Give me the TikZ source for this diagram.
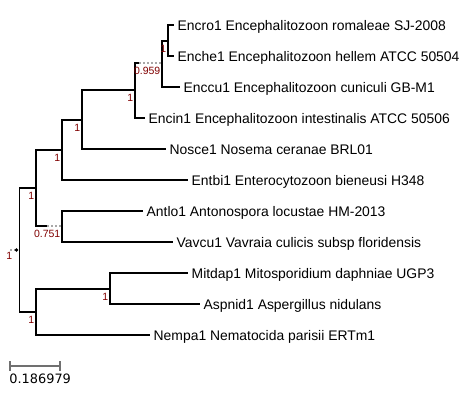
\documentclass[tikz,border=0pt]{standalone}
\usepackage{fontspec}
\setmainfont{Liberation Sans}
\newfontfamily\barfont{DejaVu Sans}
\usepackage{xcolor}
\usepackage{tikz}
\usetikzlibrary{calc}
\definecolor{supportred}{HTML}{800000}
\definecolor{dotgray}{HTML}{A8A8A8}
\definecolor{bargray}{HTML}{707070}
\tikzset{
    branch/.style={line width=1.9pt,black},
    dotbranch/.style={line width=1.9pt,dotgray,dash pattern=on 2pt off 2pt},
    leaflabel/.style={anchor=base west,inner sep=0pt,xshift=3.5pt,yshift=-5.3pt,font=\fontsize{13.9}{16}\selectfont},
    support/.style={anchor=north east,inner sep=0pt,xshift=-1.5pt,yshift=-3.8pt,text=supportred,font=\fontsize{10.5}{12}\selectfont},
    scalebar/.style={line width=1.8pt,bargray}
}

\begin{document}
\begin{tikzpicture}[x=1pt,y=-1pt]
    \useasboundingbox (0,0) rectangle (476,411);
    % inner nodes
    \coordinate (root) at (19.5,250);
    \coordinate (rootdot) at (16.5,250);
    \coordinate (rootstub) at (10,250);
    \coordinate (n1) at (36,188);
    \coordinate (n2) at (62,150);
    \coordinate (n3) at (82,120);
    \coordinate (n4) at (135,90);
    \coordinate (n5s) at (139,63);
    \coordinate (n5) at (162,63);
    \coordinate (n6) at (168,41);
    \coordinate (n7s) at (47,226);
    \coordinate (n7) at (62,226);
    \coordinate (n8) at (36,312);
    \coordinate (n9) at (110,289);
    % leaves
    \coordinate (encro) at (174,25);
    \coordinate (enche) at (174,56);
    \coordinate (enccu) at (180,87);
    \coordinate (encin) at (145,118);
    \coordinate (nosce) at (166,149);
    \coordinate (entbi) at (188,180);
    \coordinate (antlo) at (143,211);
    \coordinate (vavcu) at (173,242);
    \coordinate (mitdap) at (188,273);
    \coordinate (aspnid) at (200,304);
    \coordinate (nempa) at (150,335);

    % branches
    \draw[dotbranch] (rootstub) -- (rootdot);
    \fill (rootdot) circle (1.9pt);
    \draw[branch] (root) |- (n1);
    \draw[branch] (root) |- (n8);
    \draw[branch] (n1) |- (n2);
    \draw[branch] (n1) |- (n7s);
    \draw[dotbranch] (n7s) -- (n7);
    \draw[branch] (n2) |- (n3);
    \draw[branch] (n2) |- (entbi);
    \draw[branch] (n3) |- (n4);
    \draw[branch] (n3) |- (nosce);
    \draw[branch] (n4) |- (n5s);
    \draw[dotbranch] (n5s) -- (n5);
    \draw[branch] (n4) |- (encin);
    \draw[branch] (n5) |- (n6);
    \draw[branch] (n5) |- (enccu);
    \draw[branch] (n6) |- (encro);
    \draw[branch] (n6) |- (enche);
    \draw[branch] (n7) |- (antlo);
    \draw[branch] (n7) |- (vavcu);
    \draw[branch] (n8) |- (n9);
    \draw[branch] (n8) |- (nempa);
    \draw[branch] (n9) |- (mitdap);
    \draw[branch] (n9) |- (aspnid);

    % leaf names
    \node[leaflabel] (encro-txt) at (encro) {Encro1 Encephalitozoon romaleae SJ-2008};
    \node[leaflabel] (enche-txt) at (enche) {Enche1 Encephalitozoon hellem ATCC 50504};
    \node[leaflabel] (enccu-txt) at (enccu) {Enccu1 Encephalitozoon cuniculi GB-M1};
    \node[leaflabel] (encin-txt) at (encin) {Encin1 Encephalitozoon intestinalis ATCC 50506};
    \node[leaflabel] (nosce-txt) at (nosce) {Nosce1 Nosema ceranae BRL01};
    \node[leaflabel] (entbi-txt) at (entbi) {Entbi1 Enterocytozoon bieneusi H348};
    \node[leaflabel] (antlo-txt) at (antlo) {Antlo1 Antonospora locustae HM-2013};
    \node[leaflabel] (vavcu-txt) at (vavcu) {Vavcu1 Vavraia culicis subsp floridensis};
    \node[leaflabel] (mitdap-txt) at (mitdap) {Mitdap1 Mitosporidium daphniae UGP3};
    \node[leaflabel] (aspnid-txt) at (aspnid) {Aspnid1 Aspergillus nidulans};
    \node[leaflabel] (nempa-txt) at (nempa) {Nempa1 Nematocida parisii ERTm1};

    % support values
    \node[support,xshift=-2.5pt,yshift=1.8pt] (root-sup) at (rootdot) {1};
    \node[support] (n1-sup) at (n1) {1};
    \node[support] (n2-sup) at (n2) {1};
    \node[support] (n3-sup) at (n3) {1};
    \node[support] (n4-sup) at (n4) {1};
    \node[support] (n5-sup) at (n5) {0.959};
    \node[support] (n6-sup) at (n6) {1};
    \node[support] (n7-sup) at (n7) {0.751};
    \node[support] (n8-sup) at (n8) {1};
    \node[support] (n9-sup) at (n9) {1};

    % scale bar
    \coordinate (bar-l) at (10,366);
    \coordinate (bar-r) at (60,366);
    \draw[scalebar] (bar-l) -- (bar-r);
    \draw[scalebar] ($(bar-l)+(0,-5)$) -- ($(bar-l)+(0,5)$);
    \draw[scalebar] ($(bar-r)+(0,-5)$) -- ($(bar-r)+(0,5)$);
    \node[anchor=base west,inner sep=0pt,font=\barfont\fontsize{12.9}{14}\selectfont] (bar-txt) at (9.2,383.3) {0.186979};
\end{tikzpicture}
\end{document}
